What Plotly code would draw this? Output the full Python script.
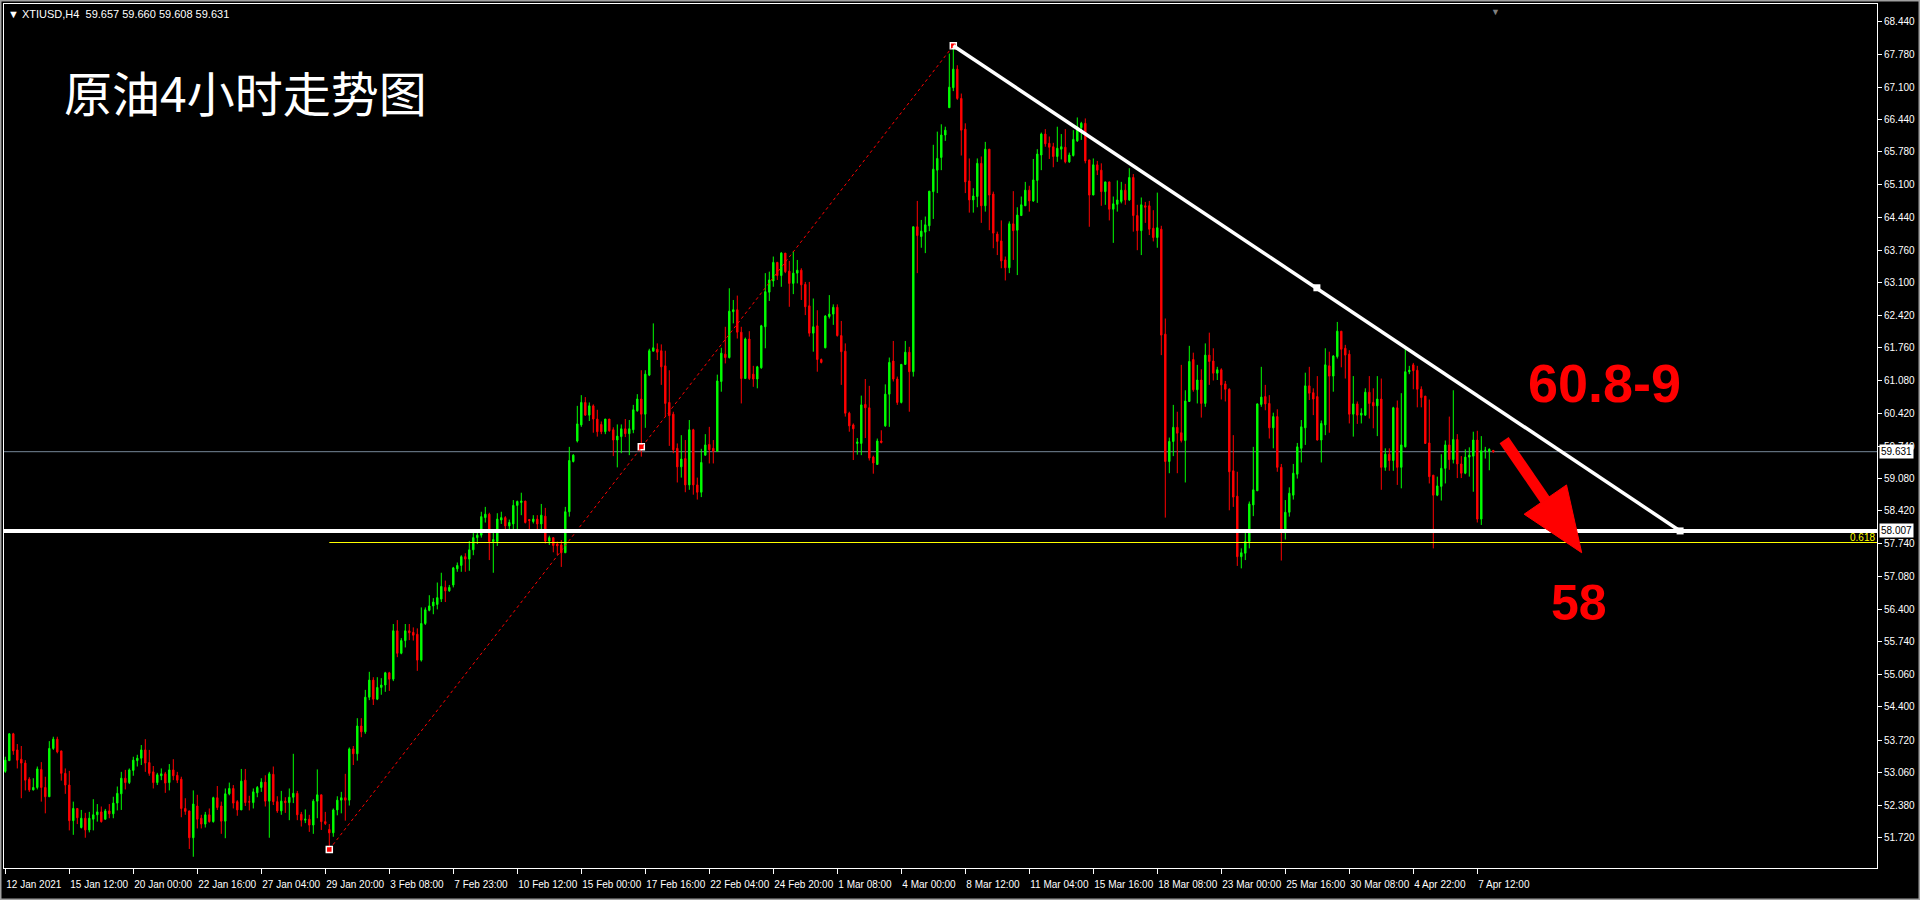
import plotly.graph_objects as go

# ---------------- data (4-hour bars, XTIUSD) ----------------
OPEN = [
    53.08, 53.30, 53.85, 53.52, 53.33, 53.25, 52.92, 52.70, 52.75, 53.12,
    52.75, 52.56, 53.55, 53.74, 53.50, 53.04, 52.80, 52.07, 52.32, 51.93,
    52.12, 51.88, 52.10, 52.19, 52.25, 52.10, 52.27, 52.21, 52.43, 52.62,
    52.94, 52.85, 53.10, 53.30, 53.35, 53.52, 53.26, 53.07, 52.85, 52.99,
    53.03, 52.85, 53.11, 53.00, 52.92, 52.32, 52.27, 51.72, 52.37, 52.12,
    52.00, 52.19, 52.05, 52.54, 52.37, 52.06, 52.62, 52.73, 52.46, 52.29,
    52.90, 52.46, 52.44, 52.64, 52.75, 52.86, 52.47, 53.02, 52.46, 52.27,
    52.47, 52.44, 52.55, 52.63, 52.20, 52.08, 52.10, 51.98, 52.47, 52.60,
    52.05, 51.89, 51.82, 52.29, 52.49, 52.54, 52.49, 53.54, 53.44, 54.01,
    53.89, 54.60, 54.95, 54.56, 54.80, 54.85, 55.10, 54.97, 55.96, 55.50,
    55.76, 55.96, 55.93, 55.89, 55.36, 56.11, 56.38, 56.47, 56.50, 56.61,
    56.85, 56.78, 56.90, 57.23, 57.30, 57.48, 57.43, 57.62, 57.87, 57.92,
    58.28, 58.35, 57.79, 57.79, 58.23, 58.28, 58.11, 58.15, 58.53, 58.59,
    58.62, 58.24, 58.20, 58.25, 58.15, 58.31, 57.80, 57.87, 57.74, 57.72,
    57.56, 58.40, 59.43, 59.85, 60.18, 60.64, 60.38, 60.57, 60.30, 60.19,
    60.04, 60.30, 60.08, 59.87, 59.94, 60.10, 60.00, 60.08, 60.47, 60.71,
    60.40, 61.20, 61.69, 61.73, 61.70, 61.39, 60.64, 60.40, 59.70, 59.32,
    59.49, 58.95, 60.08, 58.95, 58.80, 59.56, 59.78, 59.70, 59.64, 61.07,
    61.63, 61.56, 62.50, 62.54, 62.08, 61.13, 61.94, 61.22, 61.12, 61.35,
    62.19, 62.90, 63.13, 63.51, 63.24, 63.70, 63.33, 63.08, 63.29, 63.35,
    63.06, 62.62, 62.06, 62.21, 61.52, 61.76, 62.40, 62.45, 62.59, 62.01,
    61.69, 60.42, 60.18, 59.80, 59.80, 60.60, 60.53, 59.52, 59.37, 59.85,
    60.16, 60.81, 61.49, 61.12, 60.64, 61.42, 61.67, 61.27, 64.24, 64.04,
    64.13, 64.26, 64.96, 65.40, 65.66, 66.12, 66.68, 67.09, 67.47, 66.87,
    66.24, 65.18, 64.79, 64.86, 65.54, 64.67, 65.83, 64.91, 64.09, 63.95,
    63.56, 63.40, 64.30, 64.17, 64.47, 64.67, 64.99, 64.77, 65.19, 65.71,
    66.14, 65.95, 65.88, 65.68, 65.83, 65.87, 65.57, 65.70, 66.00, 66.27,
    66.36, 65.61, 64.89, 65.51, 65.40, 64.96, 65.16, 64.60, 64.70, 64.76,
    64.99, 64.79, 65.25, 64.47, 64.16, 64.67, 64.67, 64.21, 64.02, 64.19,
    62.04, 59.43, 59.84, 60.13, 60.02, 59.86, 60.66, 61.52, 60.90, 61.10,
    60.62, 61.61, 61.49, 61.24, 61.31, 61.02, 60.91, 59.24, 58.72, 57.48,
    57.55, 57.79, 58.54, 58.83, 60.60, 60.76, 60.62, 60.12, 60.35, 59.31,
    57.99, 58.39, 58.74, 59.17, 59.70, 60.12, 60.98, 60.84, 60.76, 59.87,
    60.18, 61.39, 61.18, 61.58, 62.10, 61.75, 61.63, 60.40, 60.61, 60.38,
    60.38, 60.85, 60.64, 60.57, 60.71, 59.31, 59.58, 59.45, 60.53, 59.31,
    59.73, 61.27, 61.41, 61.30, 60.91, 60.77, 59.81, 59.15, 58.74, 58.92,
    59.29, 59.77, 59.47, 59.88, 59.38, 59.19, 59.52, 59.54, 59.87, 58.25,
    59.65, 59.64, 59.657,
]
HIGH = [
    53.38, 53.86, 53.87, 53.64, 53.60, 53.31, 52.96, 52.94, 53.18, 53.27,
    52.97, 53.70, 53.79, 53.79, 53.50, 53.14, 53.09, 52.46, 52.32, 52.29,
    52.23, 52.25, 52.51, 52.41, 52.36, 52.31, 52.41, 52.56, 52.77, 53.07,
    53.11, 53.14, 53.38, 53.42, 53.62, 53.74, 53.52, 53.19, 53.05, 53.14,
    53.07, 53.23, 53.33, 53.07, 52.97, 52.53, 52.27, 52.69, 52.60, 52.19,
    52.25, 52.32, 52.56, 52.78, 52.46, 52.73, 52.85, 52.80, 52.49, 53.13,
    53.13, 52.58, 52.73, 52.78, 52.94, 53.00, 53.07, 53.18, 52.57, 52.68,
    52.55, 52.73, 53.44, 52.68, 52.25, 52.30, 52.19, 52.51, 53.12, 52.60,
    52.25, 52.00, 52.32, 52.57, 52.66, 53.03, 53.57, 53.60, 54.17, 54.17,
    54.75, 55.12, 55.01, 55.01, 54.99, 55.12, 55.12, 56.10, 56.18, 55.81,
    56.10, 56.10, 56.03, 56.01, 56.44, 56.44, 56.69, 56.63, 56.95, 57.15,
    56.99, 56.90, 57.27, 57.36, 57.51, 57.55, 57.80, 58.00, 57.98, 58.40,
    58.50, 58.38, 58.00, 58.37, 58.40, 58.31, 58.24, 58.64, 58.63, 58.79,
    58.62, 58.25, 58.33, 58.33, 58.56, 58.48, 57.91, 57.87, 57.79, 57.82,
    58.50, 59.73, 59.58, 60.57, 60.79, 60.75, 60.64, 60.60, 60.49, 60.25,
    60.30, 60.30, 60.13, 60.19, 60.19, 60.30, 60.28, 60.59, 60.81, 61.30,
    61.30, 61.74, 62.26, 61.85, 61.83, 61.70, 61.30, 60.45, 59.80, 59.97,
    59.87, 60.28, 60.10, 59.10, 59.69, 59.99, 60.14, 59.87, 61.21, 61.76,
    62.19, 62.98, 62.74, 62.83, 62.19, 61.97, 62.10, 61.39, 61.39, 62.23,
    63.29, 63.32, 63.63, 63.52, 63.72, 63.70, 63.54, 63.74, 63.56, 63.39,
    63.11, 63.11, 62.77, 62.53, 61.54, 62.43, 62.84, 62.65, 62.65, 62.31,
    61.85, 60.45, 60.21, 59.91, 60.78, 61.12, 60.98, 59.55, 59.90, 60.07,
    61.01, 61.56, 61.90, 61.17, 61.42, 61.90, 61.78, 64.24, 64.77, 64.38,
    64.45, 64.97, 65.92, 66.19, 66.34, 66.29, 67.79, 67.95, 67.55, 66.97,
    66.36, 65.64, 65.03, 65.64, 65.68, 65.98, 65.83, 64.96, 64.14, 64.37,
    63.63, 64.35, 64.97, 64.64, 64.86, 65.16, 65.08, 65.63, 65.83, 66.17,
    66.24, 66.09, 65.96, 66.29, 66.14, 66.24, 65.76, 66.22, 66.48, 66.39,
    66.46, 65.61, 65.64, 65.59, 65.54, 65.16, 65.16, 64.86, 65.19, 65.16,
    65.12, 65.44, 65.32, 64.69, 64.84, 64.75, 64.77, 64.58, 64.94, 64.26,
    62.36, 59.92, 60.59, 60.45, 61.41, 60.89, 61.80, 61.66, 61.41, 61.32,
    61.85, 62.07, 61.75, 61.37, 61.34, 61.08, 60.93, 59.97, 59.22, 57.65,
    58.04, 58.61, 59.73, 60.62, 61.37, 61.00, 60.79, 60.43, 60.50, 59.38,
    58.64, 58.90, 59.38, 59.81, 60.28, 61.25, 61.37, 60.93, 61.18, 60.27,
    61.75, 61.68, 61.61, 62.29, 62.10, 61.82, 61.71, 61.18, 60.66, 60.52,
    60.93, 61.18, 60.93, 61.18, 61.13, 59.70, 59.70, 60.55, 60.68, 60.83,
    61.77, 61.39, 61.45, 61.39, 60.97, 60.77, 60.70, 59.15, 59.12, 59.58,
    59.86, 60.35, 60.89, 59.99, 59.54, 59.68, 59.72, 60.04, 60.06, 59.95,
    59.73, 59.70, 59.660,
]
LOW = [
    53.05, 53.30, 53.42, 53.14, 52.53, 52.69, 52.66, 52.69, 52.71, 52.46,
    52.22, 52.56, 53.52, 53.45, 52.89, 52.62, 51.87, 51.78, 52.00, 51.91,
    51.72, 51.83, 51.87, 52.05, 52.03, 52.09, 52.12, 52.12, 52.28, 52.29,
    52.71, 52.82, 52.99, 53.18, 53.21, 53.07, 52.99, 52.73, 52.80, 52.90,
    52.64, 52.69, 52.90, 52.84, 52.14, 52.19, 51.49, 51.33, 51.91, 51.91,
    51.93, 52.03, 52.03, 52.29, 51.80, 51.71, 52.59, 52.32, 52.17, 52.29,
    52.37, 52.28, 52.32, 52.55, 52.66, 52.36, 51.72, 52.39, 52.23, 52.19,
    52.23, 52.08, 52.43, 52.08, 51.95, 52.02, 51.84, 51.80, 52.12, 51.88,
    51.98, 51.48, 51.74, 52.18, 52.22, 52.07, 52.38, 53.21, 53.30, 53.78,
    53.85, 54.54, 54.44, 54.54, 54.65, 54.71, 54.73, 54.93, 55.42, 55.48,
    55.62, 55.77, 55.76, 55.14, 55.33, 56.08, 56.36, 56.30, 56.40, 56.55,
    56.55, 56.76, 56.85, 57.17, 57.17, 57.17, 57.19, 57.51, 57.74, 57.87,
    58.18, 57.41, 57.15, 57.70, 58.15, 57.97, 57.99, 58.04, 57.97, 58.33,
    58.16, 58.04, 58.16, 57.99, 58.04, 57.75, 57.72, 57.57, 57.51, 57.27,
    57.56, 58.30, 59.41, 59.82, 60.14, 60.37, 60.26, 60.02, 59.94, 59.99,
    59.99, 60.04, 59.54, 59.31, 59.60, 59.93, 59.56, 60.01, 60.45, 59.53,
    60.12, 61.18, 61.69, 61.51, 61.00, 60.35, 59.75, 59.60, 59.00, 59.10,
    58.80, 58.85, 58.75, 58.65, 58.70, 59.55, 59.39, 59.39, 59.64, 60.86,
    61.44, 61.54, 62.26, 61.95, 60.62, 61.12, 61.10, 60.96, 60.93, 61.33,
    61.75, 62.72, 63.01, 63.15, 63.01, 63.29, 62.60, 62.86, 63.08, 62.74,
    62.43, 61.99, 61.68, 61.27, 61.44, 61.75, 62.36, 62.23, 61.99, 61.00,
    60.35, 60.04, 59.46, 59.57, 59.56, 59.91, 59.45, 59.18, 59.36, 59.80,
    60.14, 60.14, 61.07, 60.59, 60.62, 61.41, 60.45, 61.17, 63.29, 63.81,
    63.70, 64.15, 64.40, 64.93, 65.40, 66.00, 66.68, 67.02, 66.84, 65.70,
    64.93, 64.53, 64.53, 64.64, 64.32, 64.55, 64.17, 63.80, 63.66, 63.39,
    63.14, 63.29, 63.56, 63.25, 64.46, 64.67, 64.55, 64.75, 64.73, 65.40,
    65.88, 65.63, 65.46, 65.57, 65.62, 65.54, 65.55, 65.68, 65.98, 66.02,
    65.54, 64.24, 64.89, 65.30, 64.67, 64.69, 64.37, 63.91, 64.55, 64.72,
    64.69, 64.77, 64.14, 63.76, 63.66, 64.32, 64.07, 63.94, 63.81, 61.61,
    58.28, 59.19, 59.54, 59.19, 59.82, 59.00, 60.65, 60.86, 60.62, 60.33,
    60.55, 61.00, 61.09, 61.10, 60.70, 60.66, 58.43, 58.50, 57.29, 57.24,
    57.41, 57.65, 58.31, 58.83, 60.55, 60.48, 59.90, 59.70, 59.22, 57.40,
    57.83, 58.30, 58.65, 59.08, 59.41, 59.77, 60.69, 60.38, 59.86, 59.41,
    59.97, 60.02, 60.86, 61.54, 61.36, 61.13, 60.21, 59.94, 60.20, 60.21,
    60.37, 60.31, 60.11, 59.95, 58.85, 59.24, 59.24, 59.24, 58.95, 58.88,
    59.72, 61.22, 60.91, 60.54, 60.54, 59.79, 58.98, 57.65, 58.72, 58.63,
    58.98, 59.26, 59.39, 59.09, 59.09, 59.17, 59.12, 58.81, 58.18, 58.13,
    59.49, 59.25, 59.608,
]
CLOSE = [
    53.31, 53.85, 53.50, 53.31, 53.25, 52.90, 52.70, 52.75, 53.13, 52.75,
    52.56, 53.55, 53.74, 53.48, 53.04, 52.80, 52.07, 52.32, 52.13, 52.12,
    51.88, 52.12, 52.19, 52.25, 52.05, 52.27, 52.21, 52.43, 52.63, 52.94,
    52.85, 53.11, 53.31, 53.35, 53.52, 53.25, 53.04, 52.85, 53.01, 53.03,
    52.84, 53.11, 52.99, 52.90, 52.32, 52.26, 51.72, 52.41, 52.10, 52.00,
    52.19, 52.05, 52.54, 52.34, 52.06, 52.62, 52.73, 52.43, 52.29, 52.88,
    52.44, 52.45, 52.66, 52.75, 52.86, 52.47, 53.03, 52.46, 52.27, 52.47,
    52.44, 52.55, 52.63, 52.19, 52.08, 52.10, 51.98, 52.47, 52.60, 52.05,
    52.01, 51.82, 52.29, 52.49, 52.54, 52.49, 53.54, 53.44, 54.01, 53.89,
    54.60, 54.95, 54.56, 54.80, 54.85, 55.10, 54.97, 55.96, 55.50, 55.76,
    55.96, 55.92, 55.87, 55.36, 56.11, 56.39, 56.47, 56.55, 56.64, 56.87,
    56.78, 56.85, 57.25, 57.30, 57.48, 57.43, 57.62, 57.87, 57.92, 58.30,
    58.35, 57.79, 57.83, 58.25, 58.28, 58.11, 58.18, 58.53, 58.61, 58.62,
    58.18, 58.22, 58.25, 58.15, 58.33, 57.80, 57.87, 57.71, 57.70, 57.56,
    58.40, 59.45, 59.56, 60.20, 60.64, 60.38, 60.57, 60.30, 60.04, 60.04,
    60.30, 60.06, 59.87, 59.95, 60.10, 60.00, 60.10, 60.49, 60.71, 60.40,
    61.22, 61.70, 61.76, 61.67, 61.37, 60.62, 60.37, 59.67, 59.32, 59.48,
    58.95, 60.08, 58.95, 58.80, 59.41, 59.77, 59.67, 59.64, 61.08, 61.65,
    61.56, 62.51, 62.54, 62.08, 61.13, 61.94, 61.13, 61.12, 61.37, 62.21,
    62.91, 63.15, 63.51, 63.24, 63.70, 63.32, 63.08, 63.29, 63.35, 63.05,
    62.60, 62.06, 62.19, 61.52, 61.46, 62.41, 62.45, 62.59, 62.01, 61.68,
    60.42, 60.16, 60.10, 59.83, 60.59, 60.53, 59.50, 59.40, 59.85, 59.82,
    60.81, 61.46, 61.12, 60.64, 61.42, 61.67, 61.27, 64.24, 64.06, 64.15,
    64.28, 64.97, 65.42, 65.64, 66.12, 66.22, 67.10, 67.47, 66.87, 66.22,
    65.16, 64.79, 64.87, 65.54, 64.67, 65.83, 64.89, 64.11, 63.94, 63.54,
    63.40, 64.30, 64.16, 64.48, 64.69, 64.99, 64.77, 65.20, 65.73, 66.14,
    65.94, 65.87, 65.68, 65.85, 65.88, 65.57, 65.71, 66.03, 66.29, 66.36,
    65.59, 64.89, 65.51, 65.40, 64.96, 65.16, 64.60, 64.71, 64.79, 64.99,
    64.79, 65.25, 64.47, 64.16, 64.69, 64.64, 64.19, 64.02, 64.22, 62.02,
    59.43, 59.84, 60.13, 60.01, 59.86, 60.67, 61.48, 60.90, 61.10, 60.62,
    61.61, 61.48, 61.24, 61.31, 61.00, 60.91, 59.22, 58.70, 57.48, 57.56,
    57.79, 58.56, 58.85, 60.61, 60.75, 60.61, 60.12, 60.35, 59.31, 57.99,
    58.39, 58.78, 59.19, 59.73, 60.14, 60.98, 60.83, 60.71, 59.87, 60.21,
    61.41, 61.18, 61.59, 62.10, 61.73, 61.61, 60.40, 60.61, 60.38, 60.42,
    60.85, 60.62, 60.57, 60.71, 59.31, 59.58, 59.45, 60.53, 59.31, 59.77,
    61.27, 61.30, 61.29, 60.91, 60.74, 59.80, 59.12, 58.74, 58.93, 59.29,
    59.77, 59.47, 59.88, 59.38, 59.19, 59.52, 59.56, 59.87, 58.25, 59.65,
    59.66, 59.68, 59.631,
]

TIME_LABELS = ["12 Jan 2021", "15 Jan 12:00", "20 Jan 00:00", "22 Jan 16:00", "27 Jan 04:00",
               "29 Jan 20:00", "3 Feb 08:00", "7 Feb 23:00", "10 Feb 12:00", "15 Feb 00:00",
               "17 Feb 16:00", "22 Feb 04:00", "24 Feb 20:00", "1 Mar 08:00", "4 Mar 00:00",
               "8 Mar 12:00", "11 Mar 04:00", "15 Mar 16:00", "18 Mar 08:00", "23 Mar 00:00",
               "25 Mar 16:00", "30 Mar 08:00", "4 Apr 22:00", "7 Apr 12:00"]
BARS_PER_LABEL = 16
PRICE_TICKS = [68.44, 67.78, 67.10, 66.44, 65.78, 65.10, 64.44, 63.76, 63.10, 62.42, 61.76,
               61.08, 60.42, 59.74, 59.08, 58.42, 57.74, 57.08, 56.40, 55.74, 55.06, 54.40,
               53.72, 53.06, 52.38, 51.72, 51.06]

HEADER = "XTIUSD,H4\u00a0\u00a059.657 59.660 59.608 59.631"
TITLE = "原油4小时走势图"
TARGET_TEXT = "60.8-9"
SUPPORT_TEXT = "58"

LAST_PRICE = 59.631
SUPPORT = 58.007
FIB_LOW = (81, 51.48)
FIB_HIGH = (237, 67.95)
FIB_MID = (159, 59.73)
FIB_618 = 57.77
TREND_PTS = [(237, 67.95), (327.9, 62.99), (418.7, 58.007)]
ARROW_TAIL = (374.7, 59.87)
ARROW_BASE = (385.0, 58.64)
ARROW_HEAD = [(394.1, 57.56), (379.7, 58.35), (390.3, 58.95)]
TITLE_POS = (60, 67.02)
TARGET_POS = (399.9, 61.03)
SUPPORT_POS = (393.4, 56.53)

# ---------------- figure ----------------
bars = list(range(len(CLOSE)))
hi = [max(h, o, c) for h, o, c in zip(HIGH, OPEN, CLOSE)]
lo = [min(l, o, c) for l, o, c in zip(LOW, OPEN, CLOSE)]

fig = go.Figure()
fig.add_trace(go.Candlestick(
    x=bars, open=OPEN, high=hi, low=lo, close=CLOSE,
    increasing=dict(line=dict(color="#00ff00", width=1), fillcolor="#00ff00"),
    decreasing=dict(line=dict(color="#ff0000", width=1), fillcolor="#ff0000"),
    whiskerwidth=0, showlegend=False, hoverinfo="skip",
))

fig.add_trace(go.Scatter(
    x=[p[0] for p in TREND_PTS[1:]], y=[p[1] for p in TREND_PTS[1:]], mode="markers",
    marker=dict(symbol="square", size=7, color="white"), showlegend=False, hoverinfo="skip"))
fig.add_trace(go.Scatter(
    x=[FIB_HIGH[0], FIB_LOW[0], FIB_MID[0]], y=[FIB_HIGH[1], FIB_LOW[1], FIB_MID[1]], mode="markers",
    marker=dict(symbol="square", size=6, color="#ff0000", line=dict(color="white", width=1.5)),
    showlegend=False, hoverinfo="skip"))

shapes = []
shapes.append(dict(type="line", xref="x domain", x0=0, x1=1, yref="y", y0=LAST_PRICE, y1=LAST_PRICE,
                   line=dict(color="#778899", width=1), layer="below"))
shapes.append(dict(type="line", xref="x", x0=FIB_LOW[0], x1=470, yref="y", y0=FIB_618, y1=FIB_618,
                   line=dict(color="#ffff00", width=1), layer="above"))
shapes.append(dict(type="line", x0=FIB_LOW[0], y0=FIB_LOW[1], x1=FIB_HIGH[0], y1=FIB_HIGH[1],
                   line=dict(color="#ff0000", width=1, dash="dot"), layer="above"))
shapes.append(dict(type="line", xref="x domain", x0=0, x1=1, yref="y", y0=SUPPORT, y1=SUPPORT,
                   line=dict(color="white", width=4), layer="above"))
shapes.append(dict(type="line", x0=TREND_PTS[0][0], y0=TREND_PTS[0][1], x1=TREND_PTS[-1][0], y1=TREND_PTS[-1][1],
                   line=dict(color="white", width=3.5), layer="above"))
shapes.append(dict(type="line", x0=ARROW_TAIL[0], y0=ARROW_TAIL[1], x1=ARROW_BASE[0], y1=ARROW_BASE[1],
                   line=dict(color="#ff0000", width=11), layer="above"))
h = ARROW_HEAD
shapes.append(dict(type="path",
                   path=f"M {h[0][0]},{h[0][1]} L {h[1][0]},{h[1][1]} L {h[2][0]},{h[2][1]} Z",
                   fillcolor="#ff0000", line=dict(color="#ff0000", width=1), layer="above"))
shapes.append(dict(type="rect", xref="paper", yref="paper", x0=-4 / 1873, x1=1916 / 1873,
                   y0=-32 / 864, y1=1 + 4 / 864, line=dict(color="#a0a0a0", width=3),
                   fillcolor="rgba(0,0,0,0)"))

annotations = [
    dict(xref="paper", yref="paper", x=0, y=1, xanchor="left", yanchor="top", xshift=2, yshift=-2,
         text="▼ " + HEADER, showarrow=False, font=dict(family="Liberation Sans", size=11, color="white")),
    dict(x=TITLE_POS[0], y=TITLE_POS[1], text=TITLE, showarrow=False,
         font=dict(family="Noto Sans CJK SC", size=48, color="white")),
    dict(x=TARGET_POS[0], y=TARGET_POS[1], text=f"<b>{TARGET_TEXT}</b>", showarrow=False,
         font=dict(family="Liberation Sans", size=54, color="#ff0000")),
    dict(x=SUPPORT_POS[0], y=SUPPORT_POS[1], text=f"<b>{SUPPORT_TEXT}</b>", showarrow=False,
         font=dict(family="Liberation Sans", size=50, color="#ff0000")),
    dict(xref="paper", x=1, xanchor="right", y=FIB_618, yanchor="bottom", text="0.618", showarrow=False,
         font=dict(family="Liberation Sans", size=10, color="#ffff00"), yshift=-2),
    dict(xref="paper", x=1, xanchor="left", xshift=2, y=LAST_PRICE, text=f"{LAST_PRICE:.3f}", showarrow=False,
         bgcolor="white", borderpad=1, font=dict(family="Liberation Sans", size=10, color="black")),
    dict(xref="paper", x=1, xanchor="left", xshift=2, y=SUPPORT, text=f"{SUPPORT:.3f}", showarrow=False,
         bgcolor="white", borderpad=1, font=dict(family="Liberation Sans", size=10, color="black")),
    dict(xref="paper", yref="paper", x=1498 / 1873, y=1, yanchor="top", yshift=1, text="▼", showarrow=False,
         font=dict(size=9, color="#808080")),
]

fig.update_layout(
    width=1920, height=900,
    margin=dict(l=4, r=43, t=4, b=32),
    paper_bgcolor="black", plot_bgcolor="black",
    shapes=shapes, annotations=annotations,
    hovermode=False, showlegend=False, boxgap=0.5,
    xaxis=dict(
        range=[-0.325, 467.925], showgrid=False, zeroline=False, rangeslider=dict(visible=False),
        tickvals=[i * BARS_PER_LABEL for i in range(len(TIME_LABELS))], ticktext=TIME_LABELS,
        ticks="outside", ticklen=5, tickcolor="white", ticklabelposition="outside right",
        tickangle=0, automargin=False, ticklabelstandoff=7,
        tickfont=dict(family="Liberation Sans", size=10, color="white"),
        showline=True, linecolor="white", linewidth=1, mirror=True,
    ),
    yaxis=dict(
        range=[51.100, 68.805], side="right", showgrid=False, zeroline=False, automargin=False,
        tickvals=PRICE_TICKS, ticktext=[f"{v:.3f}" for v in PRICE_TICKS],
        ticks="outside", ticklen=4, tickcolor="white",
        tickfont=dict(family="Liberation Sans", size=10, color="white"),
        showline=True, linecolor="white", linewidth=1, mirror=True,
    ),
)

fig.write_html("out.html", config={"displayModeBar": False},
               post_script="document.body.style.margin='0px';document.body.style.background='black';")
